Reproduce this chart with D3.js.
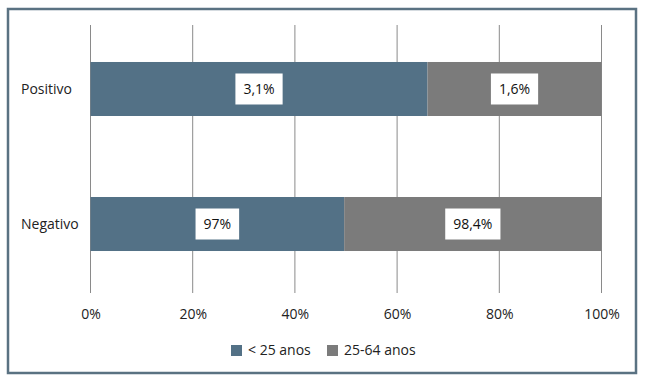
<!DOCTYPE html>
<html><head><meta charset="utf-8">
<script src="https://cdn.jsdelivr.net/npm/d3@7"></script>
<style>body{margin:0;background:#fff}svg{display:block}text{font-family:"Open Sans",sans-serif}</style>
</head><body>
<svg id="c" width="647" height="383"></svg>
<script>
const categories = ["Positivo", "Negativo"];
const seriesNames = ["< 25 anos", "25-64 anos"];
const under25 = [3.1, 97];
const age25to64 = [1.6, 98.4];
const labelsUnder25 = ["3,1%", "97%"];
const labels25to64 = ["1,6%", "98,4%"];
const ticks = [0, 0.2, 0.4, 0.6, 0.8, 1];
const colors = ["#537186", "#7b7b7b"];

const svg = d3.select("#c");
svg.append("rect").attr("x", 8).attr("y", 9).attr("width", 628).attr("height", 364)
  .attr("fill", "none").attr("stroke", "#5a7282").attr("stroke-width", 2.5);

const x = d3.scaleLinear().domain([0, 1]).range([90.5, 601.5]);
const y = d3.scaleBand().domain(categories).range([25, 288]).paddingInner(0.6).paddingOuter(0.274);

// gridlines
svg.append("g").selectAll("line").data(ticks).join("line")
  .attr("x1", d => x(d)).attr("x2", d => x(d)).attr("y1", 25).attr("y2", 293)
  .attr("stroke", "#8a8a8a").attr("stroke-width", 1);

// axis labels
const ax = d3.axisBottom(x).tickValues(ticks).tickFormat(d => Math.round(d * 100) + "%").tickSize(0).tickPadding(0);
const axG = svg.append("g").attr("transform", "translate(0,309)").call(ax);
axG.select(".domain").remove();
axG.selectAll("text").attr("font-size", 14).attr("fill", "#222").attr("font-family", '"Open Sans",sans-serif');

// y labels
svg.append("g").selectAll("text").data(categories).join("text")
  .attr("x", 21).attr("y", d => y(d) + y.bandwidth() / 2).attr("dy", "0.35em")
  .attr("font-size", 14).attr("fill", "#222").text(d => d);

const rows = categories.map((c, i) => {
  const t = under25[i] + age25to64[i];
  return {c, a: under25[i] / t, la: labelsUnder25[i], lb: labels25to64[i]};
});

rows.forEach(r => {
  const segs = [
    {x0: 0, x1: r.a, col: colors[0], lab: r.la},
    {x0: r.a, x1: 1, col: colors[1], lab: r.lb}
  ];
  const g = svg.append("g");
  segs.forEach(s => {
    g.append("rect").attr("x", x(s.x0)).attr("y", y(r.c)).attr("width", x(s.x1) - x(s.x0))
      .attr("height", y.bandwidth()).attr("fill", s.col);
  });
  segs.forEach(s => {
    const cx = (x(s.x0) + x(s.x1)) / 2, cy = y(r.c) + y.bandwidth() / 2;
    const box = g.append("rect").attr("fill", "#fff");
    const t = g.append("text").attr("x", cx).attr("y", cy).attr("dy", "0.35em")
      .attr("text-anchor", "middle").attr("font-size", 14).attr("fill", "#111").text(s.lab);
    const w = t.node().getComputedTextLength() + 16;
    box.attr("x", cx - w / 2).attr("y", cy - 15.5).attr("width", w).attr("height", 31);
  });
});

// legend
const lg = svg.append("g");
const lx = [231, 327];
seriesNames.forEach((n, i) => {
  lg.append("rect").attr("x", lx[i]).attr("y", 345).attr("width", 11).attr("height", 11).attr("fill", colors[i]);
  lg.append("text").attr("x", lx[i] + 17).attr("y", 350.5).attr("dy", "0.35em").attr("font-size", 14).attr("fill", "#222").text(n);
});
</script>
</body></html>
